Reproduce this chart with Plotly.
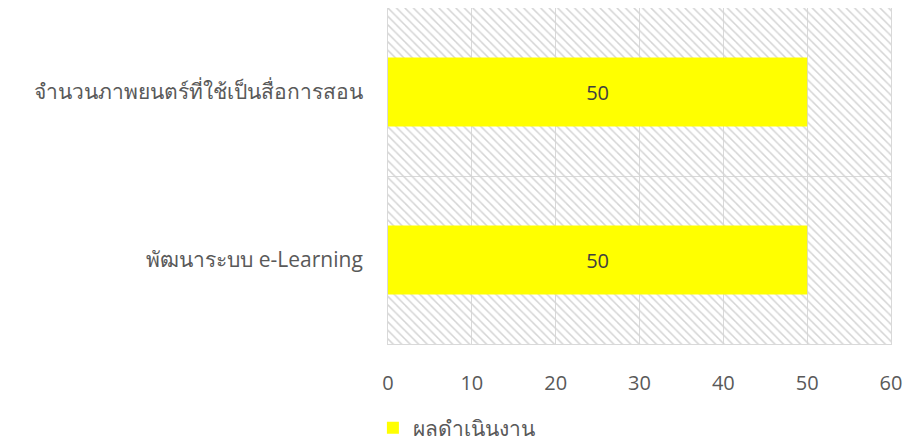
import plotly.graph_objects as go

categories = ["พัฒนาระบบ e-Learning", "จำนวนภาพยนตร์ที่ใช้เป็นสื่อการสอน"]
values = [50, 50]
series_name = "ผลดำเนินงาน"
x_ticks = [0, 10, 20, 30, 40, 50, 60]
x_max = 60

font_family = "Open Sans, Noto Sans, DejaVu Sans, sans-serif"

fig = go.Figure()

# hatched plot-area background (decoration spanning the full axis range)
fig.add_trace(go.Bar(
    y=categories, x=[x_max] * len(categories), orientation="h", width=1,
    marker=dict(color="rgba(0,0,0,0)", line=dict(width=0),
                pattern=dict(shape="\\", size=6, solidity=0.25,
                             fgcolor="#d4d4d4", bgcolor="rgba(0,0,0,0)",
                             fillmode="replace")),
    hoverinfo="skip", showlegend=False,
))

fig.add_trace(go.Bar(
    y=categories, x=values, orientation="h", name=series_name,
    width=0.41,
    marker=dict(color="#ffff00", line=dict(width=0)),
    text=[str(v) for v in values], textposition="inside", insidetextanchor="middle",
    textfont=dict(color="#404040", size=20, family=font_family),
))

fig.update_layout(
    width=903, height=433,
    margin=dict(l=380, r=20, t=0, b=97, autoexpand=False),
    barmode="overlay",
    plot_bgcolor="white", paper_bgcolor="white",
    font=dict(family=font_family, color="#595959", size=20),
    legend=dict(orientation="h", x=-0.03, xanchor="left", y=-0.25, yanchor="middle",
                font=dict(size=21, color="#595959")),
    xaxis=dict(range=[0, x_max], tickvals=x_ticks, showgrid=True, gridcolor="#d9d9d9",
               gridwidth=1, zeroline=False, showline=True, linecolor="#d9d9d9",
               mirror=True, ticks="", ticklabelstandoff=21, automargin=False,
               ticklabeloverflow="allow",
               tickfont=dict(size=20, color="#595959")),
    yaxis=dict(showgrid=True, gridcolor="#d9d9d9", tickson="boundaries", ticks="",
               showline=True, linecolor="#d9d9d9", mirror=True, automargin=False,
               ticklabelstandoff=20, tickfont=dict(size=21, color="#595959")),
)

fig.write_html("out.html")
